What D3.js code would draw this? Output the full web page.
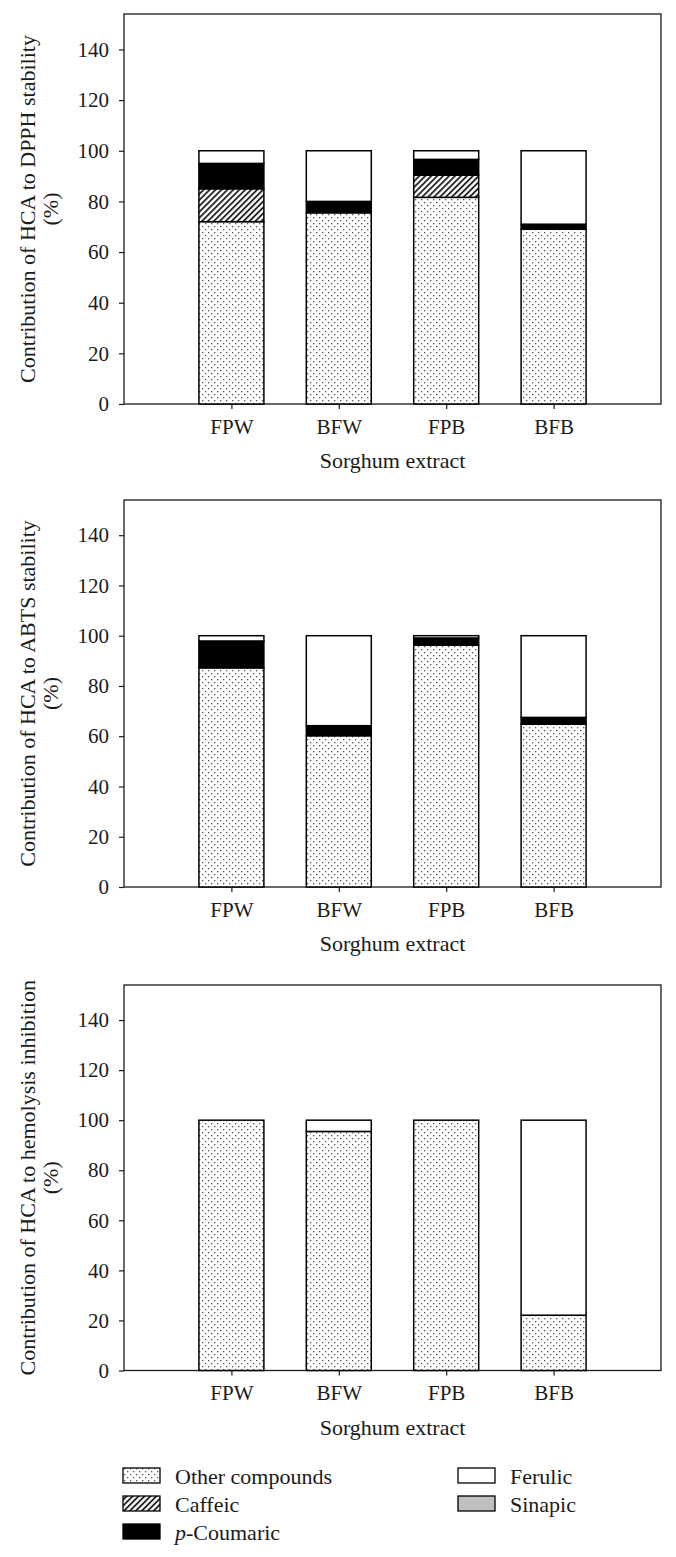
<!DOCTYPE html>
<html>
<head>
<meta charset="utf-8">
<script src="https://cdn.jsdelivr.net/npm/d3@7/dist/d3.min.js"></script>
<style>
  html, body { margin: 0; padding: 0; background: #fff; }
  svg { display: block; font-family: "Liberation Serif", "DejaVu Serif", serif; }
</style>
</head>
<body>
<svg id="chart" width="676" height="1557"></svg>
<script>
// ---------- data ----------
const categories = ["FPW", "BFW", "FPB", "BFB"];
const seriesKeys = ["other", "caffeic", "pCoumaric", "ferulic", "sinapic"];
const seriesLabels = ["Other compounds", "Caffeic", "p-Coumaric", "Ferulic", "Sinapic"];
const yTicks = [0, 20, 40, 60, 80, 100, 120, 140];
const yMax = 154;

// DPPH stability
const dpphOther     = [72.0, 75.5, 81.6, 69.0];
const dpphCaffeic   = [13.0, 0, 8.8, 0];
const dpphCoumaric  = [10.0, 4.5, 6.2, 2.0];
const dpphFerulic   = [5.0, 20.0, 3.4, 29.0];
const dpphSinapic   = [0, 0, 0, 0];
// ABTS stability
const abtsOther     = [87.2, 60.2, 96.2, 64.8];
const abtsCaffeic   = [0, 0, 0, 0];
const abtsCoumaric  = [10.7, 4.0, 2.9, 2.7];
const abtsFerulic   = [2.1, 35.8, 0.9, 32.5];
const abtsSinapic   = [0, 0, 0, 0];
// Hemolysis inhibition
const hemoOther     = [100, 95.5, 100, 22.1];
const hemoCaffeic   = [0, 0, 0, 0];
const hemoCoumaric  = [0, 0, 0, 0];
const hemoFerulic   = [0, 4.5, 0, 77.9];
const hemoSinapic   = [0, 0, 0, 0];

const yTitles = [
  "Contribution of HCA to DPPH stability",
  "Contribution of HCA to ABTS stability",
  "Contribution of HCA to hemolysis inhibition"
];
const xTitle = "Sorghum extract";

function buildRows(o, c, p, f, s) {
  return categories.map((cat, i) => ({
    cat, other: o[i], caffeic: c[i], pCoumaric: p[i], ferulic: f[i], sinapic: s[i]
  }));
}
const datasets = [
  buildRows(dpphOther, dpphCaffeic, dpphCoumaric, dpphFerulic, dpphSinapic),
  buildRows(abtsOther, abtsCaffeic, abtsCoumaric, abtsFerulic, abtsSinapic),
  buildRows(hemoOther, hemoCaffeic, hemoCoumaric, hemoFerulic, hemoSinapic)
];

// ---------- layout ----------
const svg = d3.select("#chart");
const left = 124, right = 661;
const panels = [
  { top: 14, bottom: 404 },
  { top: 500, bottom: 887 },
  { top: 985, bottom: 1370.5 }
];
const ink = "#1a1a1a";

// patterns
const defs = svg.append("defs");
const dots = defs.append("pattern").attr("id", "dots")
  .attr("patternUnits", "userSpaceOnUse").attr("width", 6).attr("height", 6);
dots.append("rect").attr("width", 6).attr("height", 6).attr("fill", "#fff");
dots.append("rect").attr("x", 1).attr("y", 1).attr("width", 1.3).attr("height", 1.3).attr("fill", "#555");
dots.append("rect").attr("x", 4).attr("y", 4).attr("width", 1.3).attr("height", 1.3).attr("fill", "#555");

const hatch = defs.append("pattern").attr("id", "hatch")
  .attr("patternUnits", "userSpaceOnUse").attr("width", 4.2).attr("height", 4.2)
  .attr("patternTransform", "rotate(45)");
hatch.append("rect").attr("width", 4.2).attr("height", 4.2).attr("fill", "#fff");
hatch.append("line").attr("x1", 1).attr("x2", 1).attr("y1", 0).attr("y2", 4.2)
  .attr("stroke", "#111").attr("stroke-width", 1.7);

const fills = {
  other: "url(#dots)", caffeic: "url(#hatch)", pCoumaric: "#000",
  ferulic: "#fff", sinapic: "#c0c0c0"
};

const x = d3.scalePoint().domain(categories).range([left, right]).padding(1);
const barW = x.step() * 0.605;
const stack = d3.stack().keys(seriesKeys);

panels.forEach((p, pi) => {
  const y = d3.scaleLinear().domain([0, yMax]).range([p.bottom, p.top]);
  const g = svg.append("g");

  // frame
  g.append("rect").attr("x", left).attr("y", p.top)
    .attr("width", right - left).attr("height", p.bottom - p.top)
    .attr("fill", "none").attr("stroke", ink).attr("stroke-width", 1.3);

  // bars
  const layers = stack(datasets[pi]);
  layers.forEach(layer => {
    g.append("g").selectAll("rect")
      .data(layer.filter(d => d[1] - d[0] > 0))
      .join("rect")
      .attr("x", d => x(d.data.cat) - barW / 2)
      .attr("y", d => y(d[1]))
      .attr("width", barW)
      .attr("height", d => y(d[0]) - y(d[1]))
      .attr("fill", fills[layer.key])
      .attr("stroke", "#000").attr("stroke-width", 1.5);
  });

  // y axis
  const ya = g.append("g").attr("transform", `translate(${left},0)`)
    .call(d3.axisLeft(y).tickValues(yTicks).tickSize(5).tickSizeOuter(0).tickPadding(10));
  ya.select(".domain").remove();
  ya.selectAll("line").attr("stroke", ink).attr("stroke-width", 1.2);
  ya.selectAll("text").attr("font-size", 21).attr("fill", ink)
    .attr("font-family", "Liberation Serif, serif");

  // x axis
  const xa = g.append("g").attr("transform", `translate(0,${p.bottom})`)
    .call(d3.axisBottom(x).tickSize(5).tickSizeOuter(0).tickPadding(10));
  xa.select(".domain").remove();
  xa.selectAll("line").attr("stroke", ink).attr("stroke-width", 1.2);
  xa.selectAll("text").attr("font-size", 21).attr("fill", ink)
    .attr("font-family", "Liberation Serif, serif");

  // titles
  const cy = (p.top + p.bottom) / 2;
  const t = g.append("text").attr("transform", `translate(35,${cy}) rotate(-90)`)
    .attr("text-anchor", "middle").attr("font-size", 22).attr("fill", ink);
  t.text(yTitles[pi]);
  g.append("text").attr("transform", `translate(58,${cy}) rotate(-90)`)
    .attr("text-anchor", "middle").attr("font-size", 22).attr("fill", ink)
    .text("(%)");

  g.append("text").attr("x", (left + right) / 2).attr("y", p.bottom + 64)
    .attr("text-anchor", "middle").attr("font-size", 22).attr("fill", ink)
    .text(xTitle);
});

// ---------- legend ----------
const legendPos = [
  { x: 123, y: 1468 }, { x: 123, y: 1496 }, { x: 123, y: 1524 },
  { x: 458, y: 1468 }, { x: 458, y: 1496 }
];
const lg = svg.append("g");
seriesKeys.forEach((k, i) => {
  const pos = legendPos[i];
  lg.append("rect").attr("x", pos.x).attr("y", pos.y).attr("width", 37).attr("height", 15)
    .attr("fill", fills[k]).attr("stroke", "#000").attr("stroke-width", 1.3);
  const tx = lg.append("text").attr("x", pos.x + 52).attr("y", pos.y + 16)
    .attr("font-size", 22).attr("fill", ink);
  if (k === "pCoumaric") {
    tx.append("tspan").attr("font-style", "italic").text("p");
    tx.append("tspan").text("-Coumaric");
  } else {
    tx.text(seriesLabels[i]);
  }
});
</script>
</body>
</html>
